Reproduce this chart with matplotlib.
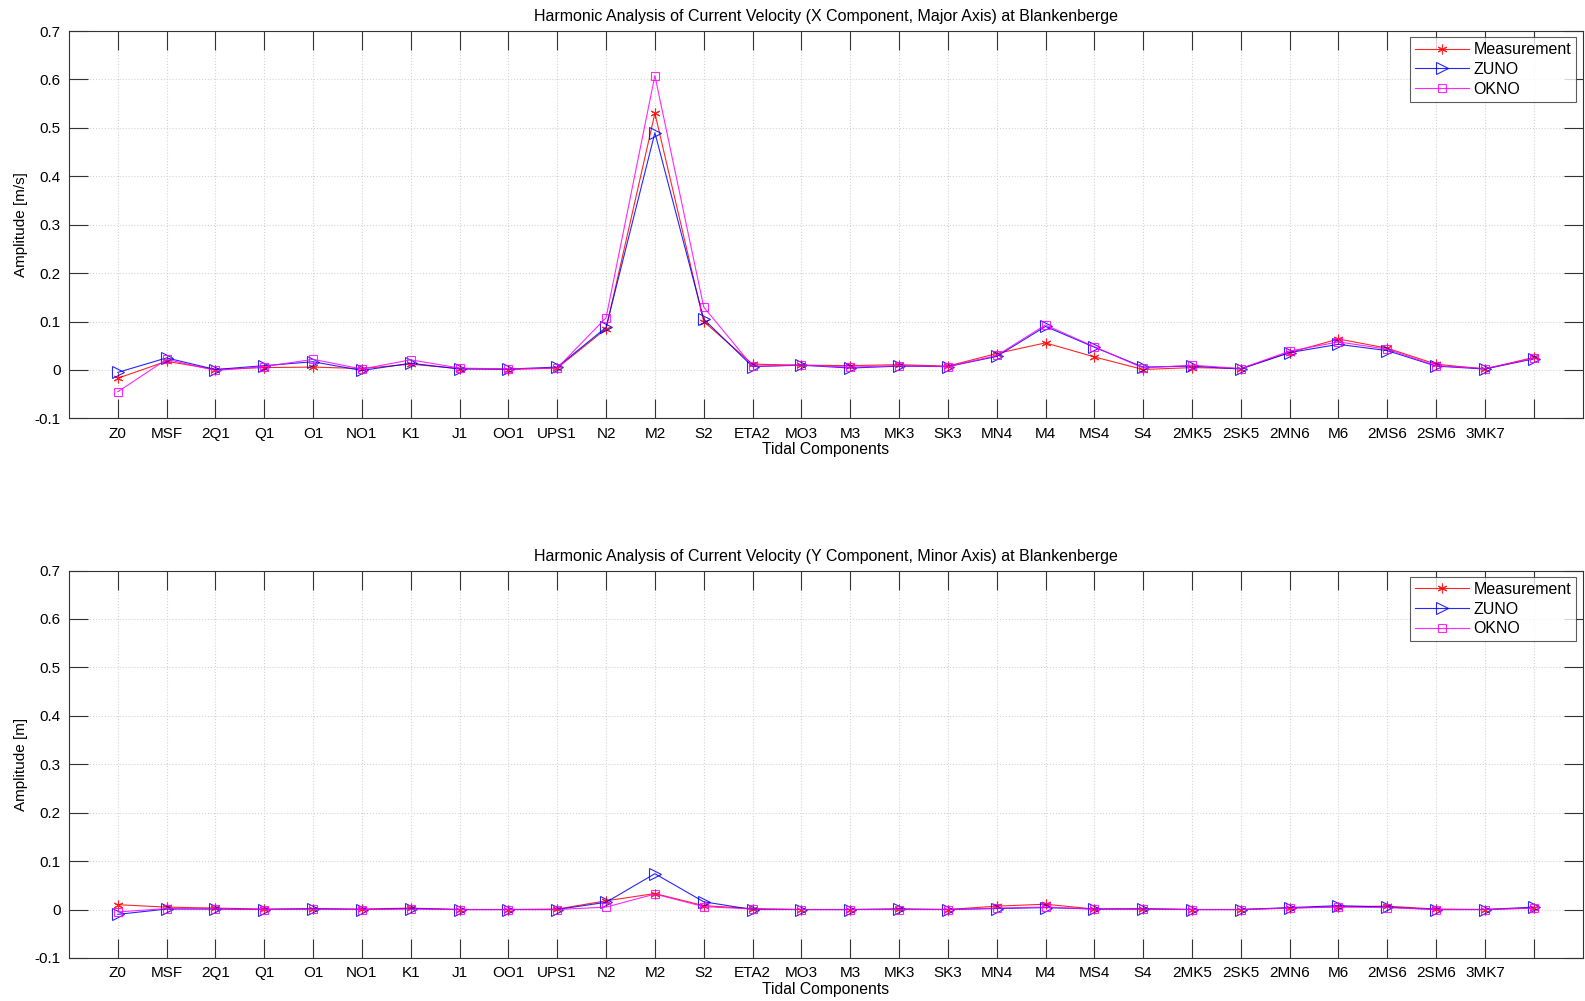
import matplotlib
matplotlib.use("Agg")
import matplotlib.pyplot as plt
import numpy as np

plt.rcParams['font.family'] = ['Liberation Sans', 'DejaVu Sans']

components = ["Z0", "MSF", "2Q1", "Q1", "O1", "NO1", "K1", "J1", "OO1", "UPS1",
              "N2", "M2", "S2", "ETA2", "MO3", "M3", "MK3", "SK3", "MN4", "M4",
              "MS4", "S4", "2MK5", "2SK5", "2MN6", "M6", "2MS6", "2SM6", "3MK7", ""]

# X component (major axis) amplitudes [m/s]
x_measurement = [-0.017, 0.018, 0.001, 0.005, 0.006, 0.003, 0.012, 0.003, 0.001, 0.004,
                 0.085, 0.530, 0.100, 0.012, 0.010, 0.009, 0.011, 0.008, 0.034, 0.056,
                 0.027, 0.001, 0.005, 0.003, 0.036, 0.064, 0.045, 0.012, 0.002, 0.026]
x_zuno = [-0.005, 0.025, 0.001, 0.009, 0.017, -0.001, 0.014, 0.002, 0.002, 0.006,
          0.088, 0.490, 0.105, 0.007, 0.010, 0.004, 0.008, 0.007, 0.028, 0.090,
          0.047, 0.006, 0.008, 0.002, 0.036, 0.053, 0.040, 0.008, 0.002, 0.023]
x_okno = [-0.045, 0.022, -0.001, 0.007, 0.022, 0.002, 0.021, 0.004, 0.002, 0.004,
          0.108, 0.608, 0.130, 0.008, 0.010, 0.006, 0.009, 0.007, 0.030, 0.093,
          0.048, 0.004, 0.010, 0.003, 0.039, 0.058, 0.043, 0.009, 0.003, 0.024]

# Y component (minor axis) amplitudes
y_measurement = [0.010, 0.005, 0.003, 0.001, 0.001, 0.001, 0.003, 0.000, 0.000, 0.001,
                 0.018, 0.033, 0.008, 0.002, 0.000, 0.000, 0.001, 0.000, 0.007, 0.011,
                 0.001, 0.002, 0.000, 0.000, 0.003, 0.006, 0.007, 0.001, 0.000, 0.003]
y_zuno = [-0.010, 0.001, 0.001, 0.000, 0.002, 0.000, 0.002, 0.000, 0.000, 0.000,
          0.015, 0.074, 0.016, 0.000, 0.000, 0.000, 0.001, 0.000, 0.002, 0.004,
          0.001, 0.001, 0.000, 0.000, 0.004, 0.008, 0.005, 0.000, 0.000, 0.005]
y_okno = [-0.005, 0.002, 0.001, 0.000, 0.001, 0.000, 0.001, 0.000, 0.000, 0.000,
          0.005, 0.032, 0.006, 0.001, 0.000, 0.000, 0.000, 0.000, 0.003, 0.005,
          0.001, 0.001, 0.000, 0.000, 0.003, 0.005, 0.004, 0.000, 0.000, 0.003]

titles = ["Harmonic Analysis of Current Velocity (X Component, Major Axis) at Blankenberge",
          "Harmonic Analysis of Current Velocity (Y Component, Minor Axis) at Blankenberge"]
ylabels = ["Amplitude [m/s]", "Amplitude [m]"]
series_names = ["Measurement", "ZUNO", "OKNO"]

fig = plt.figure(figsize=(15.85, 10.01), dpi=100)
ax_top = fig.add_axes([0.0435, 0.582, 0.955, 0.387])
ax_bot = fig.add_axes([0.0435, 0.043, 0.955, 0.387])

pos = np.arange(1, len(components) + 1)
panels = [(ax_top, (x_measurement, x_zuno, x_okno)),
          (ax_bot, (y_measurement, y_zuno, y_okno))]

# asterisk, open right-pointing triangle, open square
styles = [dict(color='red', marker=(6, 2, 0), markersize=7),
          dict(color='blue', marker='>', markersize=8, markerfacecolor='none'),
          dict(color='magenta', marker='s', markersize=6, markerfacecolor='none')]

fs = 11
for i, (ax, data) in enumerate(panels):
    for vals, name, st in zip(data, series_names, styles):
        ax.plot(pos, vals, linewidth=0.8, markeredgewidth=0.8, label=name, alpha=0.85, **st)
    ax.set_xlim(0, len(components) + 1)
    ax.set_ylim(-0.1, 0.7)
    ax.set_xticks(pos)
    ax.set_xticklabels(components, fontsize=fs)
    ax.set_yticks(np.arange(-0.1, 0.71, 0.1))
    ax.set_yticklabels(["-0.1", "0", "0.1", "0.2", "0.3", "0.4", "0.5", "0.6", "0.7"], fontsize=fs)
    ax.tick_params(axis='both', direction='in', length=14, width=0.8, color='#333333',
                   top=True, right=True, pad=6)
    ax.grid(True, color='#d4d4d4', linestyle=':', linewidth=0.8)
    for sp in ax.spines.values():
        sp.set_color('#333333')
        sp.set_linewidth(0.8)
    ax.set_title(titles[i], fontsize=11.5, pad=7)
    ax.set_xlabel("Tidal Components", fontsize=11.3, labelpad=1)
    ax.set_ylabel(ylabels[i], fontsize=fs, labelpad=5)
    leg = ax.legend(loc='upper right', fontsize=11.5, frameon=True, fancybox=False,
                    borderaxespad=0.4, handlelength=3.4, borderpad=0.3, labelspacing=0.3,
                    handletextpad=0.3)
    leg.get_frame().set_edgecolor('#333333')
    leg.get_frame().set_linewidth(0.8)

fig.savefig("out.png", dpi=100)
